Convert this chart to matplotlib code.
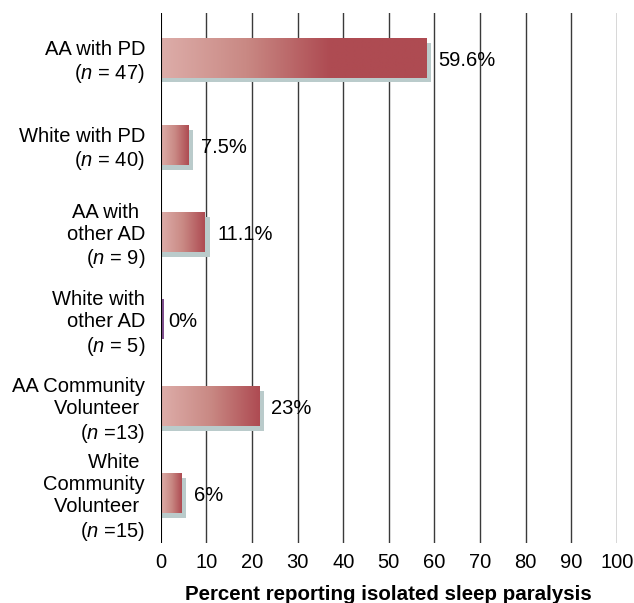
import matplotlib
matplotlib.use("Agg")
import matplotlib.pyplot as plt
import numpy as np
from matplotlib.colors import LinearSegmentedColormap

categories = [
    "AA with PD\n($n$ = 47)",
    "White with PD\n($n$ = 40)",
    "AA with \nother AD\n($n$ = 9)",
    "White with\nother AD\n($n$ = 5)",
    "AA Community\nVolunteer \n($n$ =13)",
    "White \nCommunity\nVolunteer \n($n$ =15)",
]
values = [59.6, 7.5, 11.1, 0, 23, 6]
value_labels = ["59.6%", "7.5%", "11.1%", "0%", "23%", "6%"]
xticks = [0, 10, 20, 30, 40, 50, 60, 70, 80, 90, 100]

plt.rcParams["font.family"] = ["Liberation Sans", "DejaVu Sans"]
plt.rcParams["mathtext.fontset"] = "custom"
plt.rcParams["mathtext.rm"] = "Liberation Sans"
plt.rcParams["mathtext.it"] = "Liberation Sans:italic"

FS = 14.5
bar_h = 0.455
shadow_dy = 0.054
grad = LinearSegmentedColormap.from_list("bar", ["#ddada9", "#c98984", "#ae4b52"])
shadow_color = "#bacbcb"

fig = plt.figure(figsize=(6.34, 6.03), dpi=100)
ax = fig.add_axes([0.2535, 0.0995, 0.7197, 0.8795])

ys = np.arange(len(values))
for y, v, lab in zip(ys, values, value_labels):
    if v > 0:
        front = v - 1.5
        shadow = v - 0.4
        ax.barh(y + shadow_dy, shadow, height=bar_h, color=shadow_color, zorder=2)
        # gradient fill for the front bar
        span = min(front, 37.0)
        xs = np.linspace(0, front, 200)
        g = np.clip(xs / span, 0, 1)[None, :]
        ax.imshow(g, cmap=grad, vmin=0, vmax=1, aspect="auto", interpolation="bilinear",
                  extent=(0, front, y + bar_h / 2, y - bar_h / 2), zorder=3)
        end = shadow
    else:
        ax.barh(y, 0.75, height=bar_h, color="#80508f", zorder=3)
        end = 0
    ax.annotate(lab, xy=(end, y + 0.025), xytext=(5.5, 0), textcoords="offset points",
                ha="left", va="center", fontsize=FS, zorder=5)

for t in xticks[1:]:
    ax.axvline(t, color="#3a3a3a", lw=1.0, zorder=1)
ax.axvline(0, color="black", lw=1.5, zorder=4)

ax.set_xlim(0, 100)
ax.set_ylim(5.571, -0.52)
ax.set_xticks(xticks)
ax.set_yticks(ys)
ax.set_yticklabels(categories, fontsize=FS, ha="right", multialignment="right")
ax.tick_params(axis="y", length=0, pad=11.3)
ax.tick_params(axis="x", length=0, pad=7.5, labelsize=FS)
for s in ax.spines.values():
    s.set_visible(False)
ax.set_xlabel("Percent reporting isolated sleep paralysis", fontsize=14.8,
              fontweight="bold", labelpad=9)

fig.savefig("out.png", dpi=100)
